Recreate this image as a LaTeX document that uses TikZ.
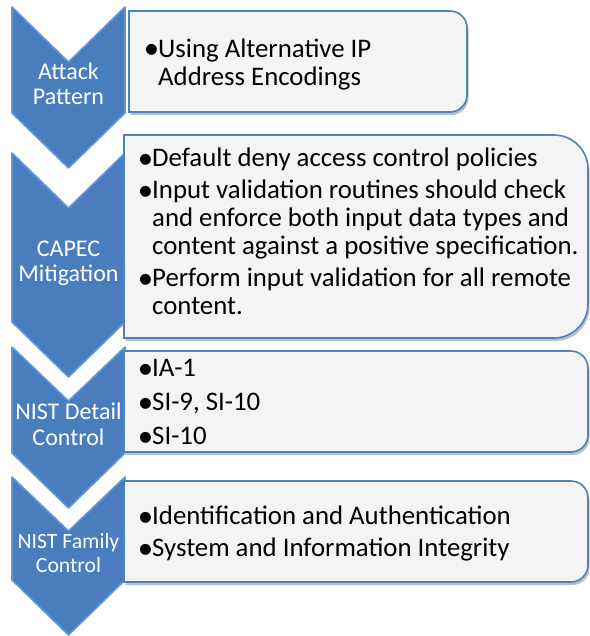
\documentclass[tikz,border=0pt]{standalone}
\usepackage{fontspec}
\setmainfont{Carlito}
\usepackage{tikz}
\usetikzlibrary{shadows}
\definecolor{chevblue}{HTML}{4A7DBE}
\definecolor{chevedge}{HTML}{6197D8}
\definecolor{boxedge}{HTML}{4F81BD}
\definecolor{boxfill}{HTML}{F4F4F4}
\newcommand{\itmark}{\makebox[10pt][l]{\makebox[6.5pt][c]{\raisebox{-1.2pt}{\scalebox{1.15}{\textbullet}}}}}
\newcommand{\itcont}{\hspace*{10pt}}

\begin{document}
\begin{tikzpicture}[x=1pt, y=-1pt,
    chevron/.style={fill=chevblue, draw=chevedge, line width=1.6pt, line join=round},
    listbox/.style={fill=boxfill, draw=boxedge, line width=1.6pt,
        drop shadow={shadow xshift=1.5pt, shadow yshift=-3pt, fill=black, opacity=0.25}},
    chevtext/.style={text=white, align=center, inner sep=0pt, font=\fontsize{24}{25}\selectfont},
    boxtext/.style={anchor=north west, align=left, inner sep=0pt, font=\fontsize{26.8}{28}\selectfont}]
    \useasboundingbox (0,0) rectangle (589,636);

    % Chevrons
    \draw[chevron] (12,7) -- (68.5,62) -- (125,7) -- (125,113) -- (68.5,168) -- (12,113) -- cycle;
    \draw[chevron] (12,153) -- (68.5,208) -- (125,153) -- (125,322) -- (68.5,377) -- (12,322) -- cycle;
    \draw[chevron] (12,347) -- (68.5,401) -- (125,347) -- (125,453) -- (68.5,508) -- (12,453) -- cycle;
    \draw[chevron] (12,477) -- (68.5,531) -- (125,477) -- (125,580) -- (68.5,635) -- (12,580) -- cycle;

    % Boxes (only the right corners rounded)
    \draw[listbox] (129,11) -- (450,11) arc[start angle=-90, end angle=0, radius=17]
        -- (467,95) arc[start angle=0, end angle=90, radius=17] -- (129,112) -- cycle;
    \draw[listbox] (124,135) -- (554,135) arc[start angle=-90, end angle=0, radius=34]
        -- (588,304) arc[start angle=0, end angle=90, radius=34] -- (124,338) -- cycle;
    \draw[listbox] (124,351) -- (571,351) arc[start angle=-90, end angle=0, radius=17]
        -- (588,435) arc[start angle=0, end angle=90, radius=17] -- (124,452) -- cycle;
    \draw[listbox] (124,481) -- (571,481) arc[start angle=-90, end angle=0, radius=17]
        -- (588,565) arc[start angle=0, end angle=90, radius=17] -- (124,582) -- cycle;

    % Labels
    \node[chevtext] (attack) at (68.5,84) {Attack\\Pattern};
    \node[chevtext] (capec) at (68.5,263) {CAPEC\\Mitigation};
    \node[chevtext, font=\fontsize{24}{26}\selectfont] (detail) at (68.5,424.5) {NIST Detail\\Control};
    \node[chevtext, font=\fontsize{21.7}{23.3}\selectfont] (family) at (68.5,553) {NIST Family\\Control};

    % Box texts
    \node[boxtext] (pattern) at (148,38.5) {\itmark Using Alternative IP\\\itcont Address Encodings};
    \node[boxtext] (mitigation) at (142,148) {\itmark Default deny access control policies\\[4pt]
        \itmark Input validation routines should check\\
        \itcont and enforce both input data types and\\
        \itcont content against a positive specification.\\[4pt]
        \itmark Perform input validation for all remote\\
        \itcont content.};
    \node[boxtext] (controls) at (142,359.5) {\itmark IA-1\\[6pt]\itmark SI-9, SI-10\\[6pt]\itmark SI-10};
    \node[boxtext] (families) at (142,506) {\itmark Identification and Authentication\\[4pt]
        \itmark System and Information Integrity};
\end{tikzpicture}
\end{document}
